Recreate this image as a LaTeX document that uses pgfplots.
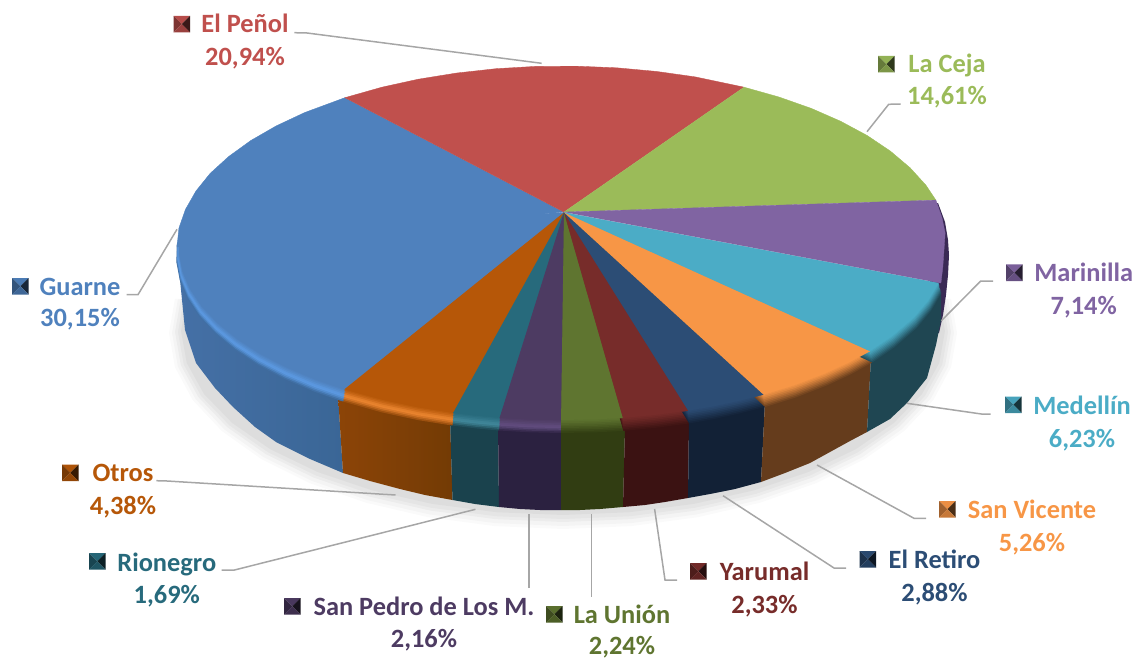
\documentclass[border=0pt]{standalone}
\usepackage{pgfplots}
\pgfplotsset{compat=1.18}
\usepackage{pgfplotstable}
\usepackage{fontspec}
\setmainfont{Carlito}
\definecolor{blF}{HTML}{4F81BD}\definecolor{blH}{HTML}{5B98E0}\definecolor{blL}{HTML}{4570A6}\definecolor{blR}{HTML}{3A6696}
\definecolor{reF}{HTML}{C0504D}
\definecolor{grF}{HTML}{9BBB59}
\definecolor{puF}{HTML}{8064A2}\definecolor{puS}{HTML}{3A2A55}
\definecolor{cyF}{HTML}{4BACC6}\definecolor{cyS}{HTML}{1F4652}
\definecolor{orF}{HTML}{F79646}\definecolor{orS}{HTML}{653C1C}
\definecolor{dbF}{HTML}{2C4D75}\definecolor{dbS}{HTML}{122136}
\definecolor{drF}{HTML}{772C2A}\definecolor{drS}{HTML}{3B1212}
\definecolor{olF}{HTML}{5F7530}\definecolor{olS}{HTML}{313D12}
\definecolor{dpF}{HTML}{4D3B62}\definecolor{dpH}{HTML}{604B7D}\definecolor{dpS}{HTML}{2B2140}
\definecolor{teF}{HTML}{276A7C}\definecolor{teH}{HTML}{3F8598}\definecolor{teS}{HTML}{1A424D}
\definecolor{brF}{HTML}{B65708}\definecolor{brH}{HTML}{E8832E}\definecolor{brL}{HTML}{8C4407}\definecolor{brR}{HTML}{733B05}
\definecolor{lead}{HTML}{A6A6A6}
% unit-ellipse outlines of the sectors: first row is the hub
\pgfplotstableread{
c s
.0026 -.2
.978 .208
.951 .309
.914 .407
.857 .515
.799 .602
}\tMed
\pgfplotstableread{
c s
.0026 -.2
.799 .602
.743 .669
.682 .731
.602 .799
.522 .853
}\tSan
\pgfplotstableread{
c s
.0026 -.2
.522 .853
.454 .891
.391 .921
.326 .946
}\tRet
\pgfplotstableread{
c s
.0026 -.2
.326 .946
.242 .970
.156 .988
}\tYar
\pgfplotstableread{
c s
.0026 -.2
.156 .988
.087 .996
-.005 1
}\tUni
\pgfplotstableread{
c s
.0026 -.2
-.005 1
-.087 .996
-.165 .986
}\tPed
\pgfplotstableread{
c s
.0026 -.2
-.165 .986
-.225 .974
-.286 .958
}\tRio
\pgfplotstableread{
c s
.0026 -.2
-.286 .958
-.375 .927
-.469 .883
-.569 .822
}\tOtr
\pgfplotstableread{
c s
.0026 -.2
-.569 .822
-.643 .766
-.719 .695
-.788 .616
-.848 .530
-.899 .438
-.940 .342
-.970 .242
-.990 .139
-.999 .035
-.998 -.070
}\tGuaF
\pgfplotstableread{
c s
.0026 -.193
-1 0
-.995 -.105
-.978 -.208
-.951 -.309
-.914 -.407
-.866 -.5
-.809 -.588
-.743 -.669
-.669 -.743
-.565 -.825
}\tGuaB
\pgfplotstableread{
c s
.0026 -.193
-.565 -.825
-.469 -.883
-.375 -.927
-.276 -.961
-.174 -.985
-.070 -.998
.035 -.999
.139 -.990
.242 -.970
.342 -.940
.469 -.883
}\tPen
\pgfplotstableread{
c s
.0026 -.193
.469 -.883
.559 -.829
.643 -.766
.719 -.695
.788 -.616
.848 -.530
.899 -.438
.940 -.342
.966 -.259
}\tCej
\pgfplotstableread{
c s
.0026 -.193
.966 -.259
.982 -.160
.990 -.077
.987 .017
.984 .110
.979 .2
}\tMar
\pgfplotstableread{
c s
.985 -.174
1 0
.985 .174
.940 .342
.866 .5
.766 .643
.643 .766
.5 .866
.342 .940
.174 .985
0 1
-.174 .985
-.342 .940
-.5 .866
-.643 .766
-.766 .643
-.866 .5
-.940 .342
-.985 .174
-1 0
-.985 -.174
}\tSha
\pgfplotstableread{
u v
0 0
1 0
.5 .5
}\kT
\pgfplotstableread{
u v
0 1
1 1
.5 .5
}\kB
\pgfplotstableread{
u v
0 0
0 1
.5 .5
}\kL
\pgfplotstableread{
u v
1 0
1 1
.5 .5
}\kR
\newcommand\wdg[6]{% table a cy b fill
  \addplot[fill=#5,draw=#6,line width=.35pt] table[x expr={563+#2*\thisrow{c}},y expr={#3+#4*\thisrow{s}}] {#1};}
% bevel with a bright ridge: table face ridge side
\newcommand\band[4]{%
  \wdg{#1}{387}{256}{177}{#4!80!#3}{none}
  \wdg{#1}{386.6}{254.9}{176.5}{#4!50!#3}{none}
  \wdg{#1}{386.2}{253.8}{176}{#4!20!#3}{none}
  \wdg{#1}{385.9}{252.6}{175.5}{#3}{none}
  \wdg{#1}{385.5}{251.5}{175}{#3!90!#2}{none}
  \wdg{#1}{385.1}{250.4}{174.5}{#3!60!#2}{none}
  \wdg{#1}{384.8}{249.2}{174}{#3!35!#2}{none}
  \wdg{#1}{384.4}{248.1}{173.5}{#3!15!#2}{none}}
% plain bevel: table face side
\newcommand\bandD[3]{%
  \wdg{#1}{387}{256}{177}{#3!90!#2}{none}
  \wdg{#1}{386.6}{254.9}{176.5}{#3!78!#2}{none}
  \wdg{#1}{386.2}{253.8}{176}{#3!65!#2}{none}
  \wdg{#1}{385.9}{252.6}{175.5}{#3!52!#2}{none}
  \wdg{#1}{385.5}{251.5}{175}{#3!40!#2}{none}
  \wdg{#1}{385.1}{250.4}{174.5}{#3!28!#2}{none}
  \wdg{#1}{384.8}{249.2}{174}{#3!16!#2}{none}
  \wdg{#1}{384.4}{248.1}{173.5}{#3!8!#2}{none}}
\newcommand\faceF[2]{\wdg{#1}{384}{247}{173}{#2}{#2}}
\newcommand\faceB[2]{\wdg{#1}{386}{247}{181}{#2}{#2}}
\newcommand\key[3]{%
  \addplot[fill=#3!95!black,draw=none] table[x expr={#1+16.5*\thisrow{u}},y expr={#2+16.5*\thisrow{v}}] {\kT};
  \addplot[fill=#3!65!black,draw=none] table[x expr={#1+16.5*\thisrow{u}},y expr={#2+16.5*\thisrow{v}}] {\kL};
  \addplot[fill=#3!30!black,draw=none] table[x expr={#1+16.5*\thisrow{u}},y expr={#2+16.5*\thisrow{v}}] {\kR};
  \addplot[fill=#3!80!black,draw=none] table[x expr={#1+16.5*\thisrow{u}},y expr={#2+16.5*\thisrow{v}}] {\kB};}
\newcommand\lab[6]{%
  \node[anchor=base,text=#6,font=\fontsize{26.4}{30}\selectfont\bfseries,inner sep=0pt] at (axis cs:#1,#2) {#4};
  \node[anchor=base,text=#6,font=\fontsize{26.4}{30}\selectfont\bfseries,inner sep=0pt] at (axis cs:#1,#3) {#5};}
\begin{document}
\begin{tikzpicture}
\path (0,0) rectangle (1137pt,660pt);
\begin{axis}[scale only axis,width=1137pt,height=660pt,xmin=0,xmax=1137,ymin=0,ymax=660,y dir=reverse,hide axis,clip=false]
% soft shadow
\wdg{\tSha}{394}{333}{196}{black,fill opacity=.02}{none}
\wdg{\tSha}{391}{333}{193}{black,fill opacity=.025}{none}
\wdg{\tSha}{388}{332}{190}{black,fill opacity=.03}{none}
\wdg{\tSha}{385}{332}{187}{black,fill opacity=.03}{none}
\wdg{\tSha}{382}{331}{184}{black,fill opacity=.035}{none}
% sides
\addplot[fill=puS,draw=none] coordinates {(938,203)(945,222)(948,240)(949,255)(948,275)(946,295)(943,315)(939,333)(930,333)(930,205)};
\addplot[left color=blL,right color=blR,draw=none] coordinates {(338,395)(343,473)(310,459)(276,442)(255,427)(233,407)(215,388)(196,363)(185,330)(181,290)(177,250)(200,250)};
\addplot[left color=brL,right color=brR,draw=none] coordinates {(338,395)(343,473)(370,481)(400,489)(425,495)(452.5,500)(450,418)};
\addplot[fill=teS,draw=none] coordinates {(450,418)(452.5,500)(475,504)(499,507)(498,425)};
\addplot[fill=dpS,draw=none] coordinates {(498,425)(499,507)(520,509)(540,510)(561,510)(561,428)};
\addplot[fill=olS,draw=none] coordinates {(561,428)(561,510)(580,510)(600,509)(623,507)(625,428)};
\addplot[fill=drS,draw=none] coordinates {(625,428)(623,507)(645,505)(665,502)(688,498)(689,420)};
\addplot[fill=dbS,draw=none] coordinates {(689,420)(688,498)(710,494)(735,489)(761,482)(765,402)};
\addplot[fill=orS,draw=none] coordinates {(765,402)(761,482)(785,473)(810,463)(830,452)(850,441)(867,432)(871,358)};
\addplot[fill=cyS,draw=none] coordinates {(871,358)(867,432)(890,419)(907,403)(927,378)(936,345)(941,320)(941,292)};
% bevel
\band{\tGuaF}{blF}{blH}{blR}
\band{\tOtr}{brF}{brH}{brL}
\band{\tRio}{teF}{teH}{teS}
\band{\tPed}{dpF}{dpH}{dpS}
\bandD{\tUni}{olF}{olS}
\bandD{\tYar}{drF}{drS}
\bandD{\tRet}{dbF}{dbS}
\bandD{\tSan}{orF}{orS}
\bandD{\tMed}{cyF}{cyS}
% top
\faceF{\tGuaF}{blF}
\faceF{\tOtr}{brF}
\faceF{\tRio}{teF}
\faceF{\tPed}{dpF}
\faceF{\tUni}{olF}
\faceF{\tYar}{drF}
\faceF{\tRet}{dbF}
\faceF{\tSan}{orF}
\faceF{\tMed}{cyF}
\faceB{\tGuaB}{blF}
\faceB{\tPen}{reF}
\faceB{\tCej}{grF}
\faceB{\tMar}{puF}
% leader lines
\addplot[lead,line width=1.5pt] coordinates {(294.4,32.7)(307,33)(541.6,63.3)};
\addplot[lead,line width=1.5pt] coordinates {(900.7,104)(888.7,104.3)(867,131.7)};
\addplot[lead,line width=1.5pt] coordinates {(993,281)(980.7,281)(941.4,320.7)};
\addplot[lead,line width=1.5pt] coordinates {(990.5,414)(981.4,414)(906.9,403.3)};
\addplot[lead,line width=1.5pt] coordinates {(926,518.3)(914,518.3)(817,465)};
\addplot[lead,line width=1.5pt] coordinates {(846,568)(834,568)(723,495.7)};
\addplot[lead,line width=1.5pt] coordinates {(677,580)(665,580)(654.6,509)};
\addplot[lead,line width=1.5pt] coordinates {(591.4,596.7)(591.4,514)};
\addplot[lead,line width=1.5pt] coordinates {(529,588)(529,514)};
\addplot[lead,line width=1.5pt] coordinates {(221.7,570)(234.5,570)(475.5,509.3)};
\addplot[lead,line width=1.5pt] coordinates {(156.3,480.7)(167,481)(395.5,495)};
\addplot[lead,line width=1.5pt] coordinates {(126.5,294.7)(138,294.7)(177,229.3)};
% keys
\key{173.5}{16}{reF}
\key{878}{56}{grF}
\key{1006}{264.5}{puF}
\key{1005}{396.5}{cyF}
\key{939}{501}{orF}
\key{859.5}{551}{dbF}
\key{690}{563}{drF}
\key{546}{606}{olF}
\key{284}{598}{dpF}
\key{89}{553}{teF}
\key{62}{464.5}{brF}
\key{12}{278}{blF}
% labels
\lab{245}{33}{66}{El Peñol}{20,94\%}{reF}
\lab{947}{72.3}{105}{La Ceja}{14,61\%}{grF}
\lab{1083.7}{281}{314}{Marinilla}{7,14\%}{puF}
\lab{1082}{414.3}{447}{Medellín}{6,23\%}{cyF}
\lab{1032}{518.3}{551}{San Vicente}{5,26\%}{orF}
\lab{934.5}{568.3}{601}{El Retiro}{2,88\%}{dbF}
\lab{764.5}{580}{613}{Yarumal}{2,33\%}{drF}
\lab{622}{623.3}{654.5}{La Unión}{2,24\%}{olF}
\lab{424}{615}{647.5}{San Pedro de Los M.}{2,16\%}{dpF}
\lab{166.8}{571}{603.5}{Rionegro}{1,69\%}{teF}
\lab{123}{481.3}{514.3}{Otros}{4,38\%}{brF}
\lab{80}{295}{326.5}{Guarne}{30,15\%}{blF}
\end{axis}
\end{tikzpicture}
\end{document}
